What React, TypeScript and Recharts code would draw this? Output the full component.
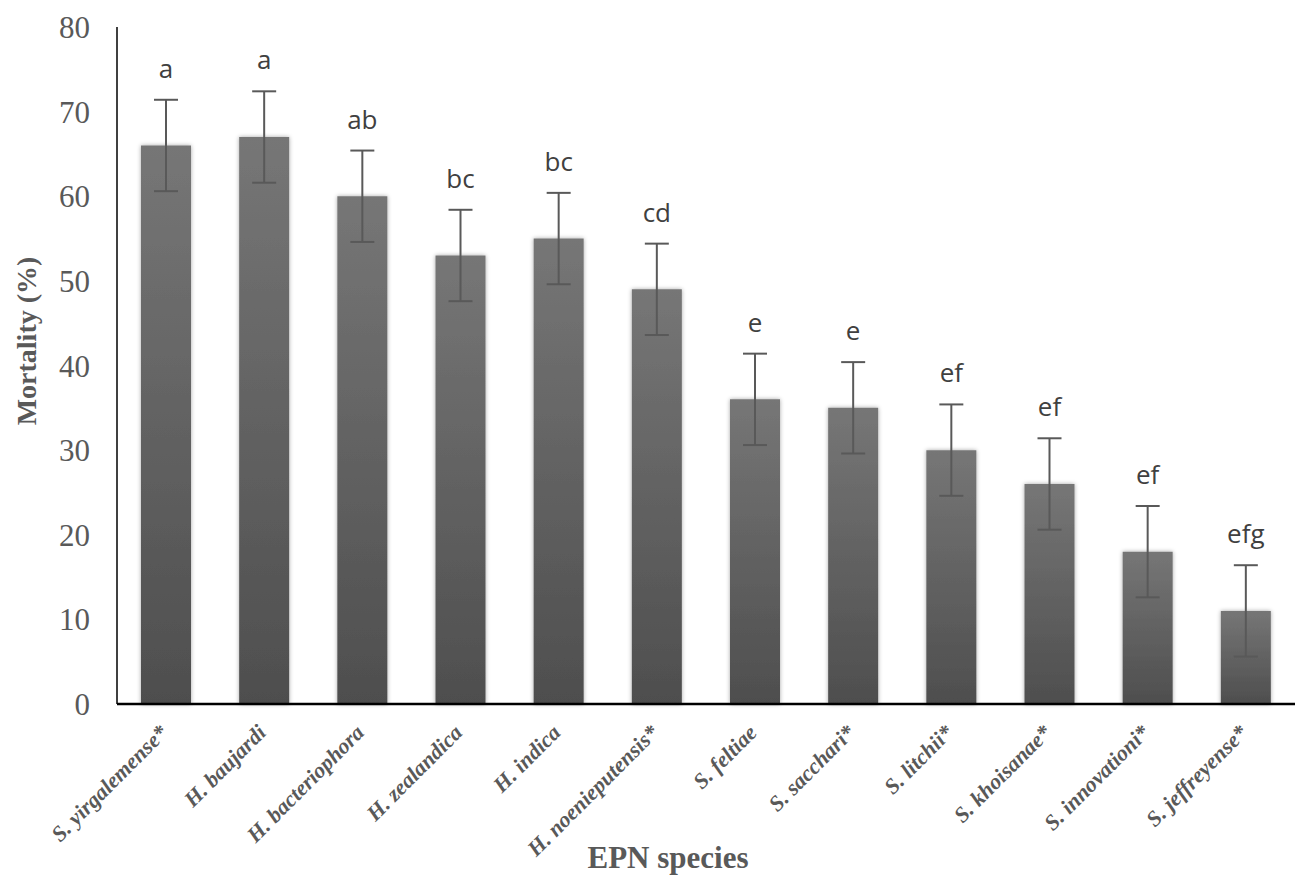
import { BarChart, Bar, XAxis, YAxis, ErrorBar, LabelList } from "recharts";

const species = [
  "S. yirgalemense*",
  "H. baujardi",
  "H. bacteriophora",
  "H. zealandica",
  "H. indica",
  "H. noenieputensis*",
  "S. feltiae",
  "S. sacchari*",
  "S. litchii*",
  "S. khoisanae*",
  "S. innovationi*",
  "S. jeffreyense*",
];
const mortality = [66, 67, 60, 53, 55, 49, 36, 35, 30, 26, 18, 11];
const errors = [5.4, 5.4, 5.4, 5.4, 5.4, 5.4, 5.4, 5.4, 5.4, 5.4, 5.4, 5.4];
const letters = ["a", "a", "ab", "bc", "bc", "cd", "e", "e", "ef", "ef", "ef", "efg"];
const yTicks = [0, 10, 20, 30, 40, 50, 60, 70, 80];

const data = species.map((name, i) => ({
  name,
  value: mortality[i],
  err: errors[i],
  letter: letters[i],
}));

const W = 1297;
const H = 881;
const TOP = 27;
const X_AXIS_H = 177;
const PLOT_H = H - TOP - X_AXIS_H;
const PX_PER_UNIT = PLOT_H / 80;

const SpeciesTick = (props: any) => {
  const { x, y, payload } = props;
  const tx = x + 3;
  const ty = y + 30;
  return (
    <text
      x={tx}
      y={ty}
      transform={`rotate(-45, ${tx}, ${ty})`}
      textAnchor="end"
      fontFamily="'Liberation Serif', 'Times New Roman', serif"
      fontStyle="italic"
      fontWeight="bold"
      fontSize={22}
      fill="#595959"
    >
      {payload.value}
    </text>
  );
};

const LetterLabel = (props: any) => {
  const { x, y, width, index } = props;
  const errTop = y - errors[index] * PX_PER_UNIT;
  return (
    <text
      x={x + width / 2}
      y={errTop - 22}
      textAnchor="middle"
      fontFamily="'Open Sans', sans-serif"
      fontSize={26}
      fill="#404040"
    >
      {letters[index]}
    </text>
  );
};

export default function App() {
  return (
    <div style={{ position: "absolute", left: 0, top: 0, width: W, height: H, background: "#fff" }}>
      <BarChart
        width={W}
        height={H}
        data={data}
        margin={{ top: TOP, right: 2, left: 0, bottom: 0 }}
        barSize={50}
      >
        <defs>
          <linearGradient id="barFill" x1="0" y1="0" x2="0" y2="1">
            <stop offset="0%" stopColor="#767676" />
            <stop offset="100%" stopColor="#4e4e4e" />
          </linearGradient>
          <filter id="soft" x="-20%" y="-10%" width="140%" height="120%">
            <feDropShadow dx="0" dy="0" stdDeviation="2" floodColor="#000" floodOpacity="0.35" />
          </filter>
        </defs>
        <XAxis
          dataKey="name"
          interval={0}
          height={X_AXIS_H}
          tickLine={false}
          tickSize={0}
          tickMargin={0}
          axisLine={{ stroke: "#000", strokeWidth: 2.5 }}
          tick={<SpeciesTick />}
        />
        <YAxis
          domain={[0, 80]}
          ticks={yTicks}
          width={117}
          tickLine={false}
          tickSize={0}
          tickMargin={27}
          axisLine={{ stroke: "#000", strokeWidth: 1.5 }}
          tick={{
            fill: "#595959",
            fontSize: 31,
            fontFamily: "'Liberation Serif', 'Times New Roman', serif",
          }}
        />
        <Bar
          dataKey="value"
          fill="url(#barFill)"
          filter="url(#soft)"
          isAnimationActive={false}
        >
          <ErrorBar dataKey="err" width={12} stroke="#595959" strokeWidth={2} />
          <LabelList dataKey="letter" content={<LetterLabel />} />
        </Bar>
      </BarChart>
      <div
        style={{
          position: "absolute",
          left: 27,
          top: 341,
          transform: "translate(-50%, -50%) rotate(-90deg)",
          whiteSpace: "nowrap",
          fontFamily: "'Liberation Serif', 'Times New Roman', serif",
          fontWeight: "bold",
          fontSize: 28,
          color: "#595959",
        }}
      >
        Mortality (%)
      </div>
      <div
        style={{
          position: "absolute",
          left: 668,
          top: 858,
          transform: "translate(-50%, -50%)",
          whiteSpace: "nowrap",
          fontFamily: "'Liberation Serif', 'Times New Roman', serif",
          fontWeight: "bold",
          fontSize: 31,
          color: "#595959",
        }}
      >
        EPN species
      </div>
    </div>
  );
}
